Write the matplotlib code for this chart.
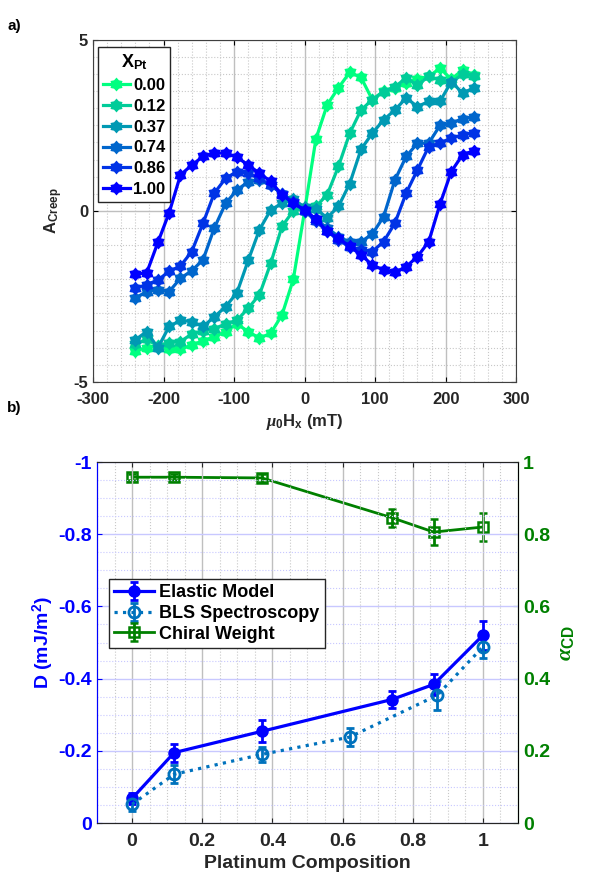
import numpy as np
import matplotlib
matplotlib.use('Agg')
import matplotlib.pyplot as plt
from matplotlib.ticker import MultipleLocator

plt.rcParams['font.family'] = ['Liberation Sans', 'DejaVu Sans']
plt.rcParams['font.weight'] = 'bold'
plt.rcParams['axes.labelweight'] = 'bold'
plt.rcParams['axes.unicode_minus'] = False
plt.rcParams['mathtext.fontset'] = 'custom'
plt.rcParams['mathtext.rm'] = 'Liberation Sans:bold'
plt.rcParams['mathtext.bf'] = 'Liberation Sans:bold'
plt.rcParams['mathtext.it'] = 'Liberation Serif:italic'

# ---- panel a: creep asymmetry vs in-plane field ----
field = np.arange(-240, 241, 16)
x_pt_labels = ['0.00', '0.12', '0.37', '0.74', '0.86', '1.00']

a_000 = [-4.10, -4.00, -3.95, -4.05, -4.05, -3.92, -3.80, -3.68, -3.53, -3.30, -3.53,
         -3.72, -3.58, -3.04, -2.00, 0.00, 2.10, 3.10, 3.60, 4.05, 3.90, 3.25,
         3.50, 3.60, 3.74, 3.86, 3.93, 4.17, 3.85, 4.12, 3.98]
a_012 = [-3.90, -3.75, -3.95, -3.85, -3.82, -3.60, -3.50, -3.45, -3.30, -3.20, -2.85,
         -2.45, -1.53, -0.45, 0.00, 0.08, 0.13, 0.47, 1.30, 2.27, 2.95, 3.25,
         3.49, 3.63, 3.88, 3.68, 3.93, 3.83, 3.75, 4.00, 3.95]
a_037 = [-3.77, -3.53, -4.00, -3.38, -3.20, -3.24, -3.38, -3.10, -2.80, -2.40, -1.45,
         -0.55, 0.03, 0.22, 0.35, 0.10, 0.05, -0.20, 0.13, 0.80, 1.80, 2.27,
         2.66, 2.95, 3.30, 3.05, 3.20, 3.20, 3.78, 3.44, 3.60]
a_074 = [-2.55, -2.36, -2.30, -2.36, -1.97, -1.75, -1.43, -0.50, 0.22, 0.61, 0.85,
         0.90, 0.75, 0.50, 0.25, 0.00, -0.25, -0.50, -0.75, -0.92, -0.90, -0.68,
         -0.17, 0.90, 1.59, 1.98, 1.98, 2.50, 2.56, 2.70, 2.74]
a_086 = [-2.26, -2.16, -2.02, -1.77, -1.61, -1.19, -0.36, 0.52, 0.95, 1.15, 1.10,
         0.95, 0.75, 0.50, 0.25, 0.00, -0.30, -0.60, -0.85, -1.05, -1.14, -1.19,
         -0.90, -0.36, 0.52, 1.20, 1.88, 1.98, 2.13, 2.22, 2.29]
a_100 = [-1.85, -1.82, -0.92, -0.05, 1.05, 1.34, 1.59, 1.69, 1.69, 1.57, 1.34,
         1.10, 0.86, 0.47, 0.22, 0.03, -0.24, -0.60, -0.80, -1.04, -1.29, -1.58,
         -1.73, -1.80, -1.63, -1.34, -0.90, 0.20, 1.15, 1.64, 1.76]
curves = [a_000, a_012, a_037, a_074, a_086, a_100]

# ---- panel b: DMI and chiral weight vs Pt composition ----
comp = [0, 0.12, 0.37, 0.74, 0.86, 1.0]
d_elastic = [-0.068, -0.195, -0.254, -0.342, -0.384, -0.520]
d_elastic_err = [0.015, 0.025, 0.030, 0.023, 0.030, 0.040]
comp_bls = [0, 0.12, 0.37, 0.62, 0.87, 1.0]
d_bls = [-0.052, -0.135, -0.190, -0.238, -0.354, -0.488]
d_bls_err = [0.020, 0.025, 0.020, 0.025, 0.040, 0.030]
alpha_cd = [0.958, 0.958, 0.956, 0.846, 0.806, 0.820]
alpha_err = [0.008, 0.008, 0.010, 0.025, 0.037, 0.040]

# chunky hexagram marker like matlab's 'h'
ang = np.pi / 2 + np.arange(12) * np.pi / 6
rad = np.where(np.arange(12) % 2 == 0, 1.0, 0.7)
hexagram = np.column_stack([rad * np.cos(ang), rad * np.sin(ang)])

fig = plt.figure(figsize=(6.08, 8.86), dpi=100)

ax1 = fig.add_axes([0.153, 0.569, 0.696, 0.386])
colors = plt.cm.winter(np.linspace(1, 0, 6))
for y, c, lab in zip(curves, colors, x_pt_labels):
    ax1.plot(field, y, '-', color=c, lw=2.3, marker=hexagram, ms=10, mew=0, label=lab)

ax1.set_xlim(-300, 300)
ax1.set_ylim(-5, 5)
ax1.set_xticks(np.arange(-300, 301, 100))
ax1.set_yticks([-5, 0, 5])
ax1.xaxis.set_minor_locator(MultipleLocator(20))
ax1.yaxis.set_minor_locator(MultipleLocator(0.5))
ax1.grid(which='major', color='#bfbfbf', lw=1.0)
ax1.grid(which='minor', color='#c8c8c8', lw=0.8, ls=':')
ax1.set_axisbelow(True)
ax1.tick_params(which='both', direction='in', top=True, right=True, labelsize=12,
                labelcolor='#262626')
ax1.tick_params(axis='x', pad=7)
ax1.tick_params(which='minor', length=0)
for s in ax1.spines.values():
    s.set_color('#404040')
ax1.set_xlabel(r'$\mathit{\mu}_0$H$_\mathbf{x}$ (mT)', fontsize=12, color='#262626')
ax1.set_ylabel(r'A$_\mathbf{Creep}$', fontsize=12, color='#262626', labelpad=6)
leg1 = ax1.legend(loc='upper left', bbox_to_anchor=(0.012, 0.978), title=r'X$_\mathbf{Pt}$',
                  fontsize=12, title_fontsize=13, handlelength=1.6, handletextpad=0.2,
                  borderaxespad=0, fancybox=False, edgecolor='#262626', framealpha=1,
                  labelspacing=0.35, borderpad=0.3)
leg1.get_frame().set_linewidth(1.0)

# ---- panel b ----
ax2 = fig.add_axes([0.1595, 0.0711, 0.6924, 0.4074])
ax3 = ax2.twinx()
blue = '#0000ff'
green = '#008000'
bls_c = '#0072bd'

h1 = ax2.errorbar(comp, d_elastic, yerr=d_elastic_err, color=blue, lw=2.3, marker='o', ms=8,
                  capsize=3, elinewidth=2, capthick=2, label='Elastic Model')
h2 = ax2.errorbar(comp_bls, d_bls, yerr=d_bls_err, color=bls_c, lw=2.3, ls=':', marker='o', ms=8,
                  mfc='none', mew=2, capsize=3, elinewidth=2, capthick=2, label='BLS Spectroscopy')
h3 = ax3.errorbar(comp, alpha_cd, yerr=alpha_err, color=green, lw=2, marker='s', ms=7,
                  mfc='none', mew=1.8, capsize=3, elinewidth=2, capthick=2, label='Chiral Weight')

ax2.set_xlim(-0.1, 1.1)
ax2.set_ylim(0, -1)
ax3.set_ylim(0, 1)
ax2.set_xticks(np.arange(0, 1.01, 0.2))
ax2.set_xticklabels(['0', '0.2', '0.4', '0.6', '0.8', '1'])
ax2.set_yticks(np.arange(0, -1.01, -0.2))
ax2.set_yticklabels(['0', '-0.2', '-0.4', '-0.6', '-0.8', '-1'])
ax3.set_yticks(np.arange(0, 1.01, 0.2))
ax3.set_yticklabels(['0', '0.2', '0.4', '0.6', '0.8', '1'])
ax2.xaxis.set_minor_locator(MultipleLocator(0.05))
ax2.yaxis.set_minor_locator(MultipleLocator(0.05))
ax2.grid(which='major', axis='x', color='#bfbfbf', lw=1.0)
ax2.grid(which='major', axis='y', color='#c8c8ff', lw=1.0)
ax2.grid(which='minor', axis='x', color='#c8c8c8', lw=0.8, ls=':')
ax2.grid(which='minor', axis='y', color='#c8c8ff', lw=0.8, ls=':')
ax2.set_axisbelow(True)
ax2.tick_params(which='both', direction='in', top=True, labelsize=14)
ax2.tick_params(which='minor', length=0)
ax2.tick_params(axis='y', colors=blue)
ax2.tick_params(axis='x', colors='#262626', pad=7)
ax3.tick_params(direction='in', colors=green, labelsize=14)
ax2.spines['left'].set_color(blue)
ax3.spines['left'].set_color(blue)
ax3.spines['right'].set_color(green)
for sp in ['top', 'bottom']:
    ax2.spines[sp].set_color('#262626')
    ax3.spines[sp].set_color('#262626')
ax2.set_xlabel('Platinum Composition', fontsize=14, color='#262626')
ax2.set_ylabel(r'D (mJ/m$^\mathbf{2}$)', fontsize=14, color=blue, labelpad=2)
ax3.set_ylabel(r'$\alpha_\mathbf{CD}$', fontsize=16, color=green, labelpad=4)

leg2 = ax2.legend(handles=[h1, h2, h3], loc='upper left', bbox_to_anchor=(0.028, 0.676),
                  fontsize=13, handlelength=2.2, handletextpad=0.3, borderaxespad=0,
                  fancybox=False, edgecolor='#262626', framealpha=1, labelspacing=0.2,
                  borderpad=0.3)
leg2.get_frame().set_linewidth(1.0)
ax2.set_zorder(ax3.get_zorder() + 1)
ax2.patch.set_visible(False)

for lab in ax1.get_xticklabels() + ax1.get_yticklabels() + ax2.get_xticklabels() + \
        ax2.get_yticklabels() + ax3.get_yticklabels():
    lab.set_fontweight('bold')

fig.text(0.012, 0.978, 'a)', fontsize=11, fontweight='bold', va='top')
fig.text(0.012, 0.547, 'b)', fontsize=11, fontweight='bold', va='top')

fig.savefig('out.png', dpi=100)
